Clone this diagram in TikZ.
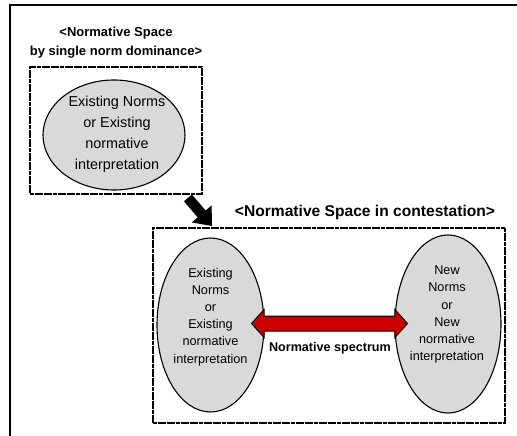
\documentclass[tikz,border=0pt]{standalone}
\usepackage{fontspec}
\setmainfont{Liberation Sans}
\usetikzlibrary{shapes.geometric,arrows.meta,calc}
\definecolor{ellgray}{HTML}{D9D9D9}
\definecolor{arrred}{HTML}{CC0000}
\tikzset{
  dashbox/.style={draw=black, line width=1.8pt, dash pattern=on 4pt off 0.6pt, rectangle, inner sep=0pt},
  normell/.style={ellipse, draw=black, line width=1.1pt, fill=ellgray, inner sep=0pt},
  titletext/.style={align=center, inner sep=0pt, font=\bfseries\fontsize{13}{19}\selectfont},
  bigtitle/.style={align=center, inner sep=0pt, font=\bfseries\fontsize{15.6}{19}\selectfont},
  uptext/.style={align=center, inner sep=0pt, font=\fontsize{14.4}{21}\selectfont},
  lowtext/.style={align=center, inner sep=0pt, font=\fontsize{12.7}{17.1}\selectfont},
  speclabel/.style={inner sep=0pt, font=\bfseries\fontsize{12.6}{15}\selectfont},
}
\begin{document}
\begin{tikzpicture}[x=1pt,y=-1pt]
\useasboundingbox (0,0) rectangle (517,436);
% outer frame (left and top edges visible)
\coordinate (fbl) at (10,437);
\coordinate (ftl) at (10,5);
\coordinate (ftr) at (518,5);
\draw[line width=2.2pt] (fbl) -- (ftl) -- (ftr);

% upper part
\node[titletext] (t1) at (116,42.5) {<Normative Space\\by single norm dominance>};
\node[dashbox, minimum width=172pt, minimum height=127pt] (ubox) at (116,130.5) {};
\node[normell, minimum width=142pt, minimum height=110pt] (uell) at (114,135) {};
\node[uptext] (utxt) at (117,134.5) {Existing Norms\\or Existing\\normative\\interpretation};

% lower part
\node[bigtitle] (t2) at (365,212) {<Normative Space in contestation>};
\node[dashbox, minimum width=352pt, minimum height=195pt] (lbox) at (329,325.5) {};
\node[normell, minimum width=107pt, minimum height=174pt] (lell) at (210.5,325) {};
\node[normell, minimum width=106pt, minimum height=178pt] (rell) at (448,324) {};
\node[lowtext] (ltxt) at ($(lell.center)+(0,-8)$) {Existing\\Norms\\or\\Existing\\normative\\interpretation};
\node[lowtext] (rtxt) at ($(rell.center)+(-1,-9.5)$) {New\\Norms\\or\\New\\normative\\interpretation};

% black arrow between spaces
\coordinate (bs) at ($(ubox.south east)+(-15,3)$);
\coordinate (be) at ($(lbox.north west)+(60,-1)$);
\draw[line width=10.5pt, -{Triangle[length=16pt,width=25pt]}] (bs) -- (be);

% red double arrow
\coordinate (aL) at ($(lell.east)+(-13,-1.5)$);
\coordinate (aR) at ($(rell.west)+(13,-0.5)$);
\draw[fill=arrred, draw=black, line width=1pt, line join=miter]
  (aL) -- ++(12.5,-14) -- ++(0,6.5) -- ($(aR)+(-12.5,-7.5)$) -- ++(0,-6.5) -- (aR)
  -- ++(-12.5,14) -- ++(0,-6.5) -- ($(aL)+(12.5,7.5)$) -- ++(0,6.5) -- cycle;
\node[speclabel] (spec) at (330,348) {Normative spectrum};
\end{tikzpicture}
\end{document}
